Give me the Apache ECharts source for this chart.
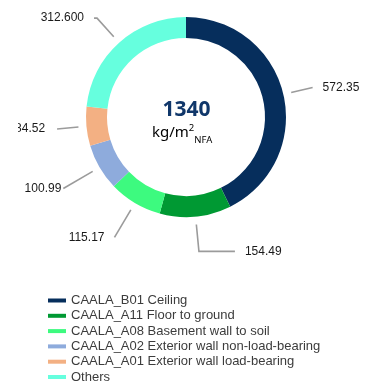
<!DOCTYPE html>
<html>
<head>
<meta charset="utf-8">
<script src="https://cdn.jsdelivr.net/npm/echarts@6/dist/echarts.min.js"></script>
<style>
  html, body { margin: 0; padding: 0; background: #ffffff; }
  #chart { width: 373px; height: 383px; }
</style>
</head>
<body>
<div id="chart"></div>
<script>
// Component names, in drawing order (clockwise from 12 o'clock)
const categories = [
  'CAALA_B01 Ceiling',
  'CAALA_A11 Floor to ground',
  'CAALA_A08 Basement wall to soil',
  'CAALA_A02 Exterior wall non-load-bearing',
  'CAALA_A01 Exterior wall load-bearing',
  'Others'
];

// Embodied mass per component, kg/m² NFA, as printed beside each slice
const valueTexts = ['572.35', '154.49', '115.17', '100.99', '84.52', '312.600'];
const values = valueTexts.map(Number);

// Total shown in the middle of the ring
const totalText = '1340';

const colors = ['#062e5c', '#009933', '#3dfa7f', '#8eabdc', '#f3b083', '#66ffde'];

// Leader line shape per slice: radial part, horizontal tail, gap before the text
const leaderLength = [22, 27, 32, 34, 21.5, 25];
const leaderTail = [0, 36, 0, 0, 0, 3];
const leaderGap = [10, 10, 10, 2, 12, 10];

const chart = echarts.init(document.getElementById('chart'), null, { renderer: 'canvas' });

const ringData = categories.map((name, i) => ({
  name,
  value: values[i],
  itemStyle: { color: colors[i] }
}));

const labelData = categories.map((name, i) => ({
  name,
  value: values[i],
  label: { formatter: () => valueTexts[i], distanceToLabelLine: leaderGap[i] },
  labelLine: { length: leaderLength[i], length2: leaderTail[i] }
}));

chart.setOption({
  animation: false,
  backgroundColor: '#ffffff',
  legend: {
    orient: 'vertical',
    left: 48,
    top: 293,
    height: 100,
    padding: 0,
    icon: 'rect',
    itemWidth: 18,
    itemHeight: 4,
    itemGap: 0.3,
    selectedMode: false,
    data: categories,
    textStyle: {
      fontFamily: 'Liberation Sans, Arial, sans-serif',
      fontSize: 13,
      lineHeight: 15,
      color: '#3c3c3c'
    }
  },
  graphic: [
    {
      type: 'text',
      left: 'center',
      top: 100,
      style: {
        text: totalText,
        fontFamily: 'Noto Sans, sans-serif',
        fontWeight: 'bold',
        fontSize: 21,
        fill: '#10376a'
      }
    },
    {
      type: 'text',
      left: 152,
      top: 123,
      style: {
        text: '{u|kg/m}{p|2}{b|NFA}',
        rich: {
          u: { fontFamily: 'Noto Sans, sans-serif', fontSize: 15, color: '#2b4b7b', lineHeight: 20, verticalAlign: 'middle' },
          p: { fontFamily: 'Noto Sans, sans-serif', fontSize: 9.5, color: '#2b4b7b', lineHeight: 10, verticalAlign: 'top' },
          b: { fontFamily: 'Noto Sans, sans-serif', fontSize: 9.5, color: '#2b4b7b', lineHeight: 10, verticalAlign: 'bottom', padding: [0, 0, -2, 0] }
        }
      }
    },
    {
      // page margin that trims the leftmost value label
      type: 'rect',
      left: 0,
      top: 118,
      z: 100,
      shape: { width: 18, height: 28 },
      style: { fill: '#ffffff' }
    }
  ],
  series: [
    {
      // the coloured ring
      type: 'pie',
      center: [186, 117],
      radius: [79, 100],
      startAngle: 90,
      clockwise: true,
      silent: true,
      label: { show: false },
      labelLine: { show: false },
      data: ringData
    },
    {
      // transparent twin ring that carries the value labels, set off from the ring
      type: 'pie',
      center: [186, 117],
      radius: [79, 108],
      startAngle: 90,
      clockwise: true,
      silent: true,
      avoidLabelOverlap: false,
      itemStyle: { color: 'rgba(0,0,0,0)' },
      label: {
        show: true,
        position: 'outside',
        fontFamily: 'Liberation Sans, Arial, sans-serif',
        fontSize: 12,
        color: '#1a1a1a'
      },
      labelLine: {
        show: true,
        lineStyle: { color: '#9b9b9b', width: 1.6 }
      },
      data: labelData
    }
  ]
});
</script>
</body>
</html>
